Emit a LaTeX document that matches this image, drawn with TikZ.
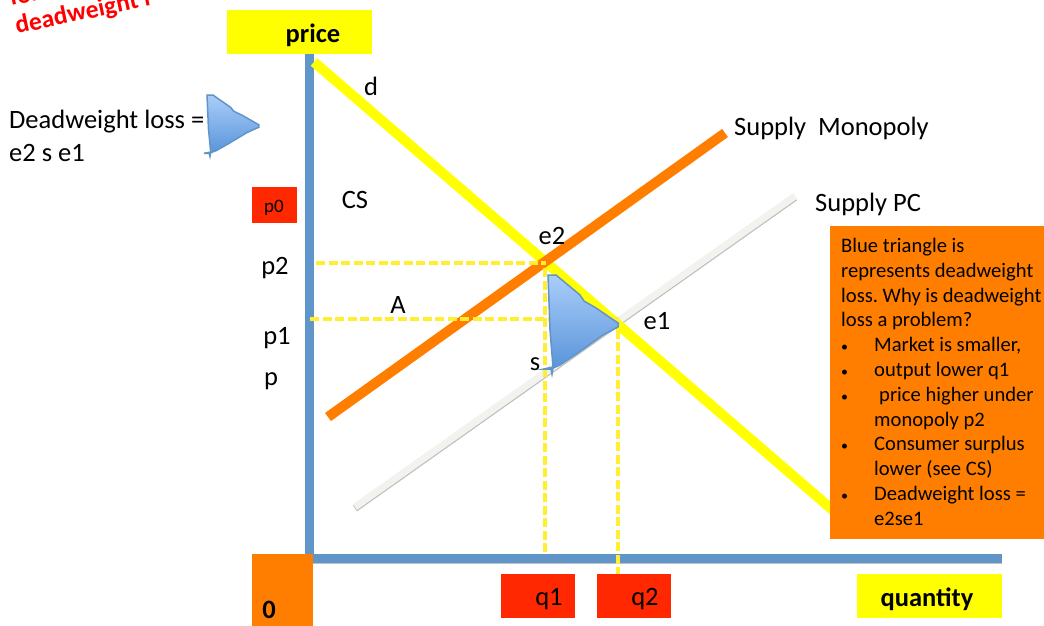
\documentclass[tikz,border=0pt]{standalone}
\usepackage{fontspec}
\setmainfont{Carlito}
\usetikzlibrary{calc,positioning}
\definecolor{axisblue}{RGB}{95,149,200}
\definecolor{blobtop}{RGB}{170,205,250}
\definecolor{blobbottom}{RGB}{85,145,215}
\definecolor{labelyellow}{RGB}{255,255,0}
\definecolor{guideyellow}{RGB}{255,238,50}
\definecolor{labelorange}{RGB}{255,126,0}
\definecolor{labelred}{RGB}{255,40,0}
\definecolor{pcgray}{RGB}{242,242,238}
\tikzset{
  axisline/.style={axisblue,line width=9pt},
  shadowline/.style={black!25,line width=#1,transform canvas={yshift=-1.5pt}},
  curveline/.style={line width=#1},
  guideline/.style={guideyellow,line width=3.2pt,dash pattern=on 9pt off 3.5pt},
  tag/.style={font=\fontsize{26.5}{26.5}\selectfont,inner sep=0pt},
  boldtag/.style={font=\fontsize{26.5}{26.5}\selectfont\bfseries,inner sep=0pt},
  headingtag/.style={anchor=base west,rotate=12,text=red,font=\fontsize{25.5}{25.5}\selectfont\bfseries,inner sep=0pt},
}
\newcommand{\lossblob}[4]{%
  \begin{scope}[shift={(#1,#2)},xscale=#3,yscale=#4]
    \draw[axisblue,line width=1.5pt,top color=blobtop,bottom color=blobbottom]
      (0,0) -- (8,0) -- (32,20) -- (36,26) -- (48,33) -- (70,48) -- (70,52) -- (55,60)
      -- (27,80) -- (12,90) -- (5,93) -- (4,99) -- (3,94) -- (-4,94) -- (5,92) -- (2,55) -- cycle;
  \end{scope}%
}
\newcommand{\whybullet}[1]{\makebox[#1][l]{\fontsize{14}{14}\selectfont•}}

\begin{document}
\begin{tikzpicture}[x=1pt,y=-1pt]
  \useasboundingbox (0,0) rectangle (1044,626);
  \clip (0,0) rectangle (1044,626);
  % heading, cut by the top edge
  \node[headingtag] (headingone) at (11,6) {for};
  \node[headingtag] (headingtwo) at (17,34) {deadweight l};
  % axes
  \coordinate (originy) at (309,555);
  \coordinate (topy) at (309,51);
  \coordinate (originx) at (305,558);
  \coordinate (endx) at (1002,558);
  \draw[shadowline=9pt] (originx) -- (endx);
  \draw[axisline] (originy) -- (topy);
  \draw[axisline] (originx) -- (endx);
  % curves
  \coordinate (dstart) at (314,62);
  \coordinate (dend) at (835,512);
  \coordinate (pcstart) at (355,507);
  \coordinate (pcend) at (795,196);
  \coordinate (monostart) at (328,417);
  \coordinate (monoend) at (725,133);
  \draw[shadowline=7pt] (pcstart) -- (pcend);
  \draw[pcgray,curveline=7pt] (pcstart) -- (pcend);
  \draw[labelyellow,curveline=10pt] (dstart) -- (dend);
  \draw[labelorange,curveline=10pt] (monostart) -- (monoend);
  % points on the curves
  \coordinate (e2) at (546,263);
  \coordinate (e1) at (622,319);
  \coordinate (p2guide) at (316,263);
  \coordinate (p1guide) at (310,319);
  \coordinate (q1top) at (545,268);
  \coordinate (q1foot) at (545,554);
  \coordinate (q2top) at (618,320);
  \coordinate (q2foot) at (618,576);
  \draw[guideline] (p2guide) -- (e2);
  \draw[guideline] (p1guide) -- (e1);
  \draw[guideline] (q1top) -- (q1foot);
  \draw[guideline] (q2foot) -- (q2top);
  \lossblob{548}{275}{1}{1}
  \lossblob{207}{95}{0.74}{0.62}
  % axis boxes
  \fill[labelyellow] (227,10) rectangle (372,54);
  \fill[labelyellow] (857,574) rectangle (1002,618);
  \fill[labelorange] (252,554) rectangle (313,626);
  \fill[labelred] (252,187) rectangle (297,223);
  \fill[labelred] (501,574) rectangle (575,618);
  \fill[labelred] (597,574) rectangle (671,618);
  \fill[labelorange] (830,226) rectangle (1044,539);
  \node[boldtag] (price) at (313,35) {price};
  \node[boldtag] (quantity) at (927,599) {quantity};
  \node[boldtag] (zero) at (269,610) {0};
  \node[font=\fontsize{19}{19}\selectfont,inner sep=0pt] (pzero) at (274,208) {p0};
  \node[tag] (qone) at (549,599) {q1};
  \node[tag] (qtwo) at (645,599) {q2};
  % labels
  \node[tag] (dlabel) at (371,86) {d};
  \node[tag] (cs) at (355,200) {CS};
  \node[tag] (etwo) at (552,236) {e2};
  \node[tag] (eone) at (657,321) {e1};
  \node[tag] (slabel) at (535,364) {s};
  \node[tag] (alabel) at (398,305) {A};
  \node[tag] (ptwo) at (275,268) {p2};
  \node[tag] (pone) at (277,338) {p1};
  \node[tag] (plabel) at (271,381) {p};
  \node[tag,anchor=west] (mono) at (734,128) {Supply\ \ Monopoly};
  \node[tag,anchor=west] (pc) at (815,204) {Supply PC};
  \node[tag,anchor=west] (loss) at (9,122) {Deadweight loss =};
  \node[tag,anchor=west] (lossname) at (9,153) {e2 s e1};
  \node[anchor=north west,inner sep=0pt,align=left,font=\fontsize{20.6}{24.8}\selectfont\frenchspacing] (why) at (841,238) {%
    Blue triangle is\\
    represents deadweight\\
    loss. Why is deadweight\\
    loss a problem?\\
    \whybullet{33pt}Market is smaller,\\
    \whybullet{33pt}output lower q1\\
    \whybullet{38pt}price higher under\\
    \makebox[33pt][l]{}monopoly p2\\
    \whybullet{33pt}Consumer surplus\\
    \makebox[33pt][l]{}lower (see CS)\\
    \whybullet{33pt}Deadweight loss =\\
    \makebox[33pt][l]{}e2se1};
\end{tikzpicture}
\end{document}
